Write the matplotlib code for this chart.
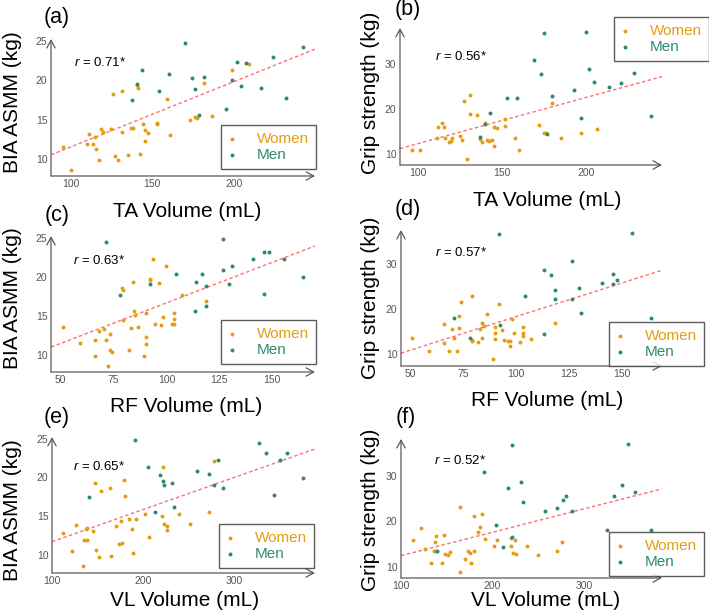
import numpy as np
import matplotlib
matplotlib.use("Agg")
import matplotlib.pyplot as plt

plt.rcParams['font.family'] = ['Liberation Sans', 'DejaVu Sans']
plt.rcParams['mathtext.fontset'] = 'custom'
plt.rcParams['mathtext.rm'] = 'Liberation Sans'
plt.rcParams['mathtext.it'] = 'Liberation Sans:italic'

W, H = 709, 616
women_color = "#E39E12"
men_color = "#2E8B6E"
axis_color = "#5A5A5A"

# (a) TA volume vs BIA ASMM
ta_w_a = [95.1, 100.2, 110.2, 111.4, 113.5, 114.7, 115.7, 117.6, 118.8, 119.8, 124.9, 126.1, 127.1,
          129.2, 131.2, 131.2, 135.3, 137.1, 138.4, 140.4, 141.4, 142.4, 144.5, 145.5, 145.5, 147.6,
          152.7, 152.7, 158.8, 161.0, 173.3, 176.3, 177.6, 181.6, 186.5, 199.0, 209.2]
asmm_w_a = [11.5, 8.55, 11.9, 13.2, 11.9, 12.8, 11.3, 9.8, 13.8, 13.4, 13.8, 18.3, 10.3, 9.8, 18.6,
            13.4, 10.5, 13.9, 13.9, 19.4, 19.1, 10.6, 14.4, 13.7, 12.3, 13.3, 14.6, 14.5, 17.6, 13.1,
            15.0, 15.3, 15.2, 19.7, 15.5, 21.3, 22.1]
ta_m_a = [137.3, 140.4, 143.5, 153.9, 160.0, 170.2, 174.3, 176.3, 178.6, 181.6, 195.1, 199.0, 202.0,
          204.1, 207.1, 216.3, 223.7, 231.6, 242.0]
asmm_m_a = [17.5, 19.5, 21.3, 18.7, 20.8, 24.8, 20.3, 18.9, 15.6, 20.4, 16.3, 20.0, 22.3, 19.3, 22.2,
            19.0, 23.0, 17.8, 24.3]

# (b) TA volume vs grip strength
ta_w_b = [96.0, 101.2, 110.9, 111.9, 113.9, 115.1, 115.9, 118.3, 119.3, 120.3, 125.0, 126.2, 127.2,
          129.0, 131.0, 131.0, 135.0, 137.0, 138.0, 140.0, 141.0, 141.9, 143.9, 144.9, 144.9, 147.1,
          151.8, 151.8, 157.8, 159.8, 171.8, 174.8, 175.9, 179.9, 184.9, 196.8, 206.8]
grip_w_b = [10.9, 10.9, 13.6, 15.9, 16.8, 16.0, 13.6, 12.6, 12.9, 13.6, 14.0, 13.1, 21.6, 8.9, 23.0,
            18.9, 18.5, 13.2, 12.7, 16.8, 13.0, 12.8, 13.0, 16.0, 11.7, 15.6, 16.1, 17.7, 13.6, 10.9,
            16.3, 14.7, 14.7, 21.3, 13.6, 14.7, 15.4]
ta_m_b = [137.0, 140.0, 143.0, 152.9, 158.9, 169.0, 173.0, 175.0, 177.0, 179.9, 192.8, 196.8, 199.8,
          201.8, 204.8, 213.9, 220.7, 228.6, 238.8]
grip_m_b = [13.7, 16.5, 19.1, 22.3, 22.3, 30.8, 27.6, 36.9, 14.4, 22.9, 24.2, 18.0, 37.0, 28.7, 25.9,
            24.8, 25.7, 28.0, 18.3]

# (c) RF volume vs BIA ASMM
rf_w_c = [50.9, 59.1, 66.2, 66.4, 68.3, 70.3, 71.3, 72.2, 73.3, 73.3, 74.3, 79.2, 79.3, 79.3, 82.3,
          83.3, 84.4, 84.5, 85.3, 86.6, 89.4, 90.4, 90.4, 90.4, 92.4, 92.4, 93.5, 94.5, 96.7, 97.6,
          98.6, 99.7, 102.6, 103.5, 103.5, 103.5, 107.6, 118.6]
asmm_w_c = [13.5, 11.5, 11.9, 9.8, 13.1, 13.3, 11.9, 8.6, 12.7, 10.6, 10.3, 18.5, 18.3, 14.5, 10.6,
            13.4, 19.3, 15.6, 15.1, 13.5, 9.8, 15.3, 12.3, 11.4, 19.7, 19.6, 22.2, 14.0, 19.2, 13.8,
            14.8, 21.4, 14.0, 13.9, 15.4, 14.6, 17.7, 16.9]
rf_m_c = [71.3, 78.2, 92.4, 104.6, 113.7, 113.9, 116.7, 118.9, 118.9, 126.8, 127.0, 129.8, 131.1,
          141.2, 146.3, 146.3, 148.5, 155.4, 164.5]
asmm_m_c = [24.4, 17.6, 19.0, 20.4, 15.6, 19.3, 20.3, 18.8, 16.3, 24.8, 20.8, 19.0, 21.3, 22.2, 17.8,
            23.1, 23.2, 22.3, 20.0]

# (d) RF volume vs grip strength
rf_w_d = [50.8, 58.7, 65.6, 65.6, 67.9, 69.7, 70.7, 71.8, 72.7, 72.7, 73.9, 78.8, 78.8, 78.8, 82.0,
          82.9, 83.9, 83.9, 84.8, 86.0, 89.1, 90.1, 90.1, 90.1, 92.0, 93.0, 94.1, 96.0, 96.9, 96.9,
          98.0, 99.1, 101.9, 103.0, 103.0, 103.0, 107.0, 118.2]
grip_w_d = [13.5, 10.7, 16.7, 12.4, 10.7, 15.6, 13.5, 10.7, 18.4, 15.8, 21.5, 23.0, 13.1, 12.9, 12.7,
            15.5, 16.9, 13.5, 16.2, 18.8, 8.8, 15.9, 14.6, 13.4, 21.2, 15.3, 13.0, 12.8, 12.8, 11.7,
            17.7, 14.6, 12.7, 16.0, 14.6, 13.9, 13.4, 16.9]
rf_m_d = [70.7, 77.9, 92.0, 92.1, 104.1, 113.3, 113.3, 116.3, 118.2, 118.2, 126.3, 126.3, 129.5,
          130.6, 140.5, 145.6, 145.6, 147.7, 154.6, 163.8]
grip_m_d = [18.1, 13.6, 36.7, 16.4, 22.9, 28.7, 14.4, 27.5, 24.2, 22.2, 30.8, 22.2, 24.7, 19.0, 25.7,
            27.9, 25.5, 26.4, 36.9, 17.9]

# (e) VL volume vs BIA ASMM
vl_w_e = [112.1, 122.0, 126.4, 134.1, 135.2, 137.7, 138.5, 138.8, 145.4, 147.6, 148.7, 151.3, 153.5,
          163.4, 164.5, 170.7, 174.0, 176.6, 175.5, 179.5, 179.9, 184.6, 187.5, 189.0, 192.7, 202.6,
          206.2, 220.9, 222.0, 222.7, 226.4, 226.7, 239.6, 251.3, 272.5, 277.7]
asmm_w_e = [12.8, 10.5, 13.9, 8.6, 12.0, 13.3, 12.0, 13.5, 13.1, 19.3, 10.7, 9.8, 18.3, 18.6, 9.9,
            13.7, 11.4, 11.5, 14.4, 19.7, 17.6, 14.7, 13.4, 10.3, 14.6, 15.3, 12.3, 15.0, 21.4, 14.0,
            13.8, 13.2, 15.3, 14.0, 15.5, 22.1]
vl_m_e = [140.3, 191.6, 205.1, 212.8, 218.3, 222.0, 223.1, 232.0, 234.1, 259.3, 272.2, 278.4, 282.4,
          288.3, 327.5, 335.5, 344.3, 350.9, 358.6, 375.8]
asmm_m_e = [17.5, 24.8, 21.4, 15.6, 20.3, 19.5, 19.0, 19.3, 16.2, 20.8, 20.4, 19.0, 22.2, 18.7, 24.4,
            23.1, 17.8, 22.3, 23.2, 19.9]

# (f) VL volume vs grip strength
vl_w_f = [112.7, 122.2, 126.5, 133.1, 136.0, 137.1, 138.2, 138.2, 145.1, 146.9, 148.4, 151.3, 153.5,
          164.0, 164.4, 170.2, 172.7, 174.9, 176.0, 179.3, 180.0, 183.6, 186.5, 188.0, 191.3, 201.8,
          204.7, 219.6, 220.4, 221.8, 224.7, 225.8, 237.5, 249.5, 270.2, 275.3]
grip_w_f = [16.0, 18.5, 13.9, 10.9, 13.6, 15.6, 16.8, 13.6, 10.9, 17.0, 12.9, 12.6, 13.2, 23.2, 8.9,
            11.8, 13.5, 13.0, 10.9, 21.2, 13.5, 17.7, 18.9, 21.6, 16.1, 14.7, 16.0, 16.3, 14.7, 13.0,
            15.9, 12.8, 14.7, 12.7, 13.5, 15.4]
vl_m_f = [139.3, 190.9, 203.6, 211.6, 216.4, 220.7, 221.5, 230.5, 232.7, 257.5, 269.8, 276.4, 280.0,
          286.5, 325.1, 333.1, 341.1, 348.4, 355.6, 373.1]
grip_m_f = [13.6, 30.8, 19.2, 14.4, 27.4, 16.5, 36.7, 28.6, 24.2, 22.3, 22.9, 24.8, 25.7, 22.3, 18.2,
            25.6, 28.0, 36.9, 26.5, 18.1]

r_values = ["0.71", "0.56", "0.63", "0.57", "0.65", "0.52"]
panel_tags = ["(a)", "(b)", "(c)", "(d)", "(e)", "(f)"]
x_titles = ["TA Volume (mL)", "TA Volume (mL)", "RF Volume (mL)", "RF Volume (mL)",
            "VL Volume (mL)", "VL Volume (mL)"]
y_titles = ["BIA ASMM (kg)", "Grip strength (kg)"] * 3

fig = plt.figure(figsize=(W / 100, H / 100), dpi=100)


def px_axes(left, right, top, bottom):
    return fig.add_axes([left / W, 1 - bottom / H, (right - left) / W, (bottom - top) / H])


def draw_panel(k, box, xw, yw, xm, ym, xlim, ylim, xticks, yticks,
               tag_pos, r_pos, xlab_pos, ylab_pos, leg_pos):
    ax = px_axes(*box)
    ax.set_xlim(*xlim)
    ax.set_ylim(*ylim)
    ax.scatter(xw, yw, s=8, color=women_color, linewidths=0, label="Women", zorder=3)
    ax.scatter(xm, ym, s=8, color=men_color, linewidths=0, label="Men", zorder=3)

    # linear fit over all subjects
    xa = np.array(xw + xm)
    ya = np.array(yw + ym)
    b, a = np.polyfit(xa, ya, 1)
    xx = np.array(xlim)
    ax.plot(xx, a + b * xx, color="#FF6F6F", lw=1.0, linestyle=(0, (2.5, 1.8)), zorder=2)

    for s in ax.spines.values():
        s.set_visible(False)
    arrow = dict(arrowstyle="->,head_length=0.55,head_width=0.3", color=axis_color,
                 lw=0.9, shrinkA=0, shrinkB=0)
    ax.annotate("", xy=(1, 0), xytext=(0, 0), xycoords="axes fraction", arrowprops=arrow)
    ax.annotate("", xy=(0, 1), xytext=(0, 0), xycoords="axes fraction", arrowprops=arrow)

    ax.set_xticks(xticks)
    ax.set_yticks(yticks)
    ax.tick_params(length=0, labelsize=7.5, labelcolor="#555555", pad=2.5)

    fig.text(tag_pos[0] / W, 1 - tag_pos[1] / H, panel_tags[k], fontsize=15.5,
             ha="center", va="center")
    fig.text(r_pos[0] / W, 1 - r_pos[1] / H, r"$\mathit{r}$ = " + r_values[k] + "*",
             fontsize=9.5, ha="left", va="center")
    fig.text(xlab_pos[0] / W, 1 - xlab_pos[1] / H, x_titles[k], fontsize=15,
             ha="center", va="center")
    fig.text(ylab_pos[0] / W, 1 - ylab_pos[1] / H, y_titles[k], fontsize=15,
             ha="center", va="center", rotation=90)

    leg = ax.legend(loc="upper left", bbox_to_anchor=(leg_pos[0] / W, 1 - leg_pos[1] / H),
                    bbox_transform=fig.transFigure, fontsize=11, frameon=True, fancybox=False,
                    borderaxespad=0, handlelength=0.6, handletextpad=1.3, borderpad=0.45,
                    labelspacing=0.15, markerscale=1.0)
    leg.get_frame().set_edgecolor("#333333")
    leg.get_frame().set_linewidth(1.0)
    for t, c in zip(leg.get_texts(), [women_color, men_color]):
        t.set_color(c)
    return ax


draw_panel(0, (51, 315, 39, 176), ta_w_a, asmm_w_a, ta_m_a, asmm_m_a,
           (87.9, 249.6), (7.8, 25.3), [100, 150, 200], [10, 15, 20, 25],
           (57, 18), (74, 62), (187, 212), (13, 102), (221, 125))
draw_panel(1, (400, 662, 28, 165), ta_w_b, grip_w_b, ta_m_b, grip_m_b,
           (89.1, 245.3), (7.5, 37.9), [100, 150, 200], [10, 20, 30],
           (408, 9), (435, 57), (547, 201), (371, 93), (614, 17))
draw_panel(2, (51, 315, 236, 372), rf_w_c, asmm_w_c, rf_m_c, asmm_m_c,
           (45.4, 170.3), (7.8, 25.2), [50, 75, 100, 125, 150], [10, 15, 20, 25],
           (57, 215), (73, 261), (186, 406), (13, 298), (221, 320))
draw_panel(3, (401, 662, 230, 366), rf_w_d, grip_w_d, rf_m_d, grip_m_d,
           (45.4, 169.0), (7.3, 37.6), [50, 75, 100, 125, 150], [10, 20, 30],
           (408, 210), (435, 253), (547, 400), (371, 298), (609, 322))
draw_panel(4, (52, 315, 437, 573), vl_w_e, asmm_w_e, vl_m_e, asmm_m_e,
           (100, 389), (7.7, 25.2), [100, 200, 300], [10, 15, 20, 25],
           (57, 417), (73, 467), (185, 601), (13, 510), (219, 524))
draw_panel(5, (401, 662, 439, 578), vl_w_f, grip_w_f, vl_m_f, grip_m_f,
           (100, 385), (7.6, 38.1), [100, 200, 300], [10, 20, 30],
           (406, 417), (434, 461), (546, 601), (371, 510), (609, 532))

fig.savefig("out.png", dpi=100)
